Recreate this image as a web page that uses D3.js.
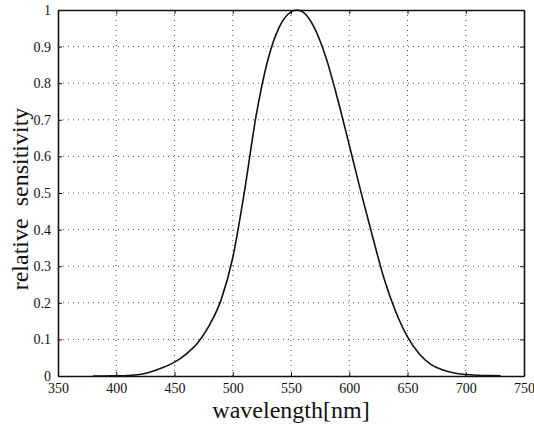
<!DOCTYPE html>
<meta charset="utf-8">
<style>
	body { margin: 0; background: #fff; }
	.grid line { stroke: #555; stroke-width: 1px; stroke-dasharray: 1,4; }
	.axis path, .axis line { stroke: #111; }
	.line { fill: none; stroke: #111; stroke-width: 1.6px; }
	.label { font-family: "Liberation Serif", serif; font-size: 24px; fill: #111; white-space: pre; }
</style>
<svg id="chart" width="534" height="427"></svg>
<script src="https://d3js.org/d3.v7.min.js"></script>
<script>
	// wavelength (nm) and relative sensitivity
	var wavelength = [380, 390, 400, 410, 420, 430, 440, 450, 460, 470, 480, 490, 500, 510, 520, 530, 540, 550, 555, 560, 570, 580, 590, 600, 610, 620, 630, 640, 650, 660, 670, 680, 690, 700, 710, 720, 730];
	var sensitivity = [0.00004, 0.00012, 0.0004, 0.0012, 0.004, 0.0116, 0.023, 0.038, 0.06, 0.091, 0.139, 0.208, 0.323, 0.503, 0.71, 0.862, 0.954, 0.995, 1.0, 0.995, 0.952, 0.87, 0.757, 0.631, 0.503, 0.381, 0.265, 0.175, 0.107, 0.061, 0.032, 0.017, 0.0082, 0.0041, 0.0021, 0.00105, 0.00052];
	var xTicks = [350, 400, 450, 500, 550, 600, 650, 700, 750];
	var yTicks = [0, 0.1, 0.2, 0.3, 0.4, 0.5, 0.6, 0.7, 0.8, 0.9, 1];

	var svg = d3.select("#chart"),
		margin = {top: 10, right: 10, bottom: 51, left: 58},
		width = svg.attr("width") - margin.left - margin.right,
		height = svg.attr("height") - margin.top - margin.bottom,
		g = svg.append("g").attr("transform", "translate(" + margin.left + "," + margin.top + ")");

	var x = d3.scaleLinear().domain([350, 750]).range([0, width]),
		y = d3.scaleLinear().domain([0, 1]).range([height, 0]);

	var data = wavelength.map(function(w, i) { return {w: w, v: sensitivity[i]}; });

	// dotted grid
	var grid = g.append("g").attr("class", "grid");
	grid.selectAll(".gx").data(xTicks.slice(1, -1)).enter().append("line")
		.attr("x1", function(d) { return x(d); }).attr("x2", function(d) { return x(d); })
		.attr("y1", 0).attr("y2", height);
	grid.selectAll(".gy").data(yTicks.slice(1, -1)).enter().append("line")
		.attr("x1", 0).attr("x2", width)
		.attr("y1", function(d) { return y(d); }).attr("y2", function(d) { return y(d); });

	var fmt = function(d) { return d3.format("~g")(d); };

	// axes with inward ticks on all four sides
	g.append("g").attr("class", "axis")
		.attr("transform", "translate(0," + height + ")")
		.call(d3.axisBottom(x).tickValues(xTicks).tickSizeInner(-4).tickSizeOuter(0).tickPadding(7));
	g.append("g").attr("class", "axis")
		.call(d3.axisTop(x).tickValues(xTicks).tickSizeInner(-4).tickSizeOuter(0).tickFormat(""));
	g.append("g").attr("class", "axis")
		.call(d3.axisLeft(y).tickValues(yTicks).tickFormat(fmt).tickSizeInner(-4).tickSizeOuter(0).tickPadding(7));
	g.append("g").attr("class", "axis")
		.attr("transform", "translate(" + width + ",0)")
		.call(d3.axisRight(y).tickValues(yTicks).tickSizeInner(-4).tickSizeOuter(0).tickFormat(""));

	g.selectAll(".axis text")
		.style("font-family", "'Liberation Serif', serif")
		.style("font-size", "14px")
		.attr("fill", "#111");
	g.selectAll(".axis path").style("stroke-width", "1.6px");

	var line = d3.line()
		.curve(d3.curveMonotoneX)
		.x(function(d) { return x(d.w); })
		.y(function(d) { return y(d.v); });

	g.append("path").datum(data).attr("class", "line").attr("d", line);

	svg.append("text").attr("class", "label")
		.attr("x", 291).attr("y", 418)
		.attr("text-anchor", "middle")
		.text("wavelength[nm]");

	svg.append("text").attr("class", "label")
		.attr("transform", "translate(28,199) rotate(-90)")
		.attr("text-anchor", "middle")
		.text("relative  sensitivity");
</script>
